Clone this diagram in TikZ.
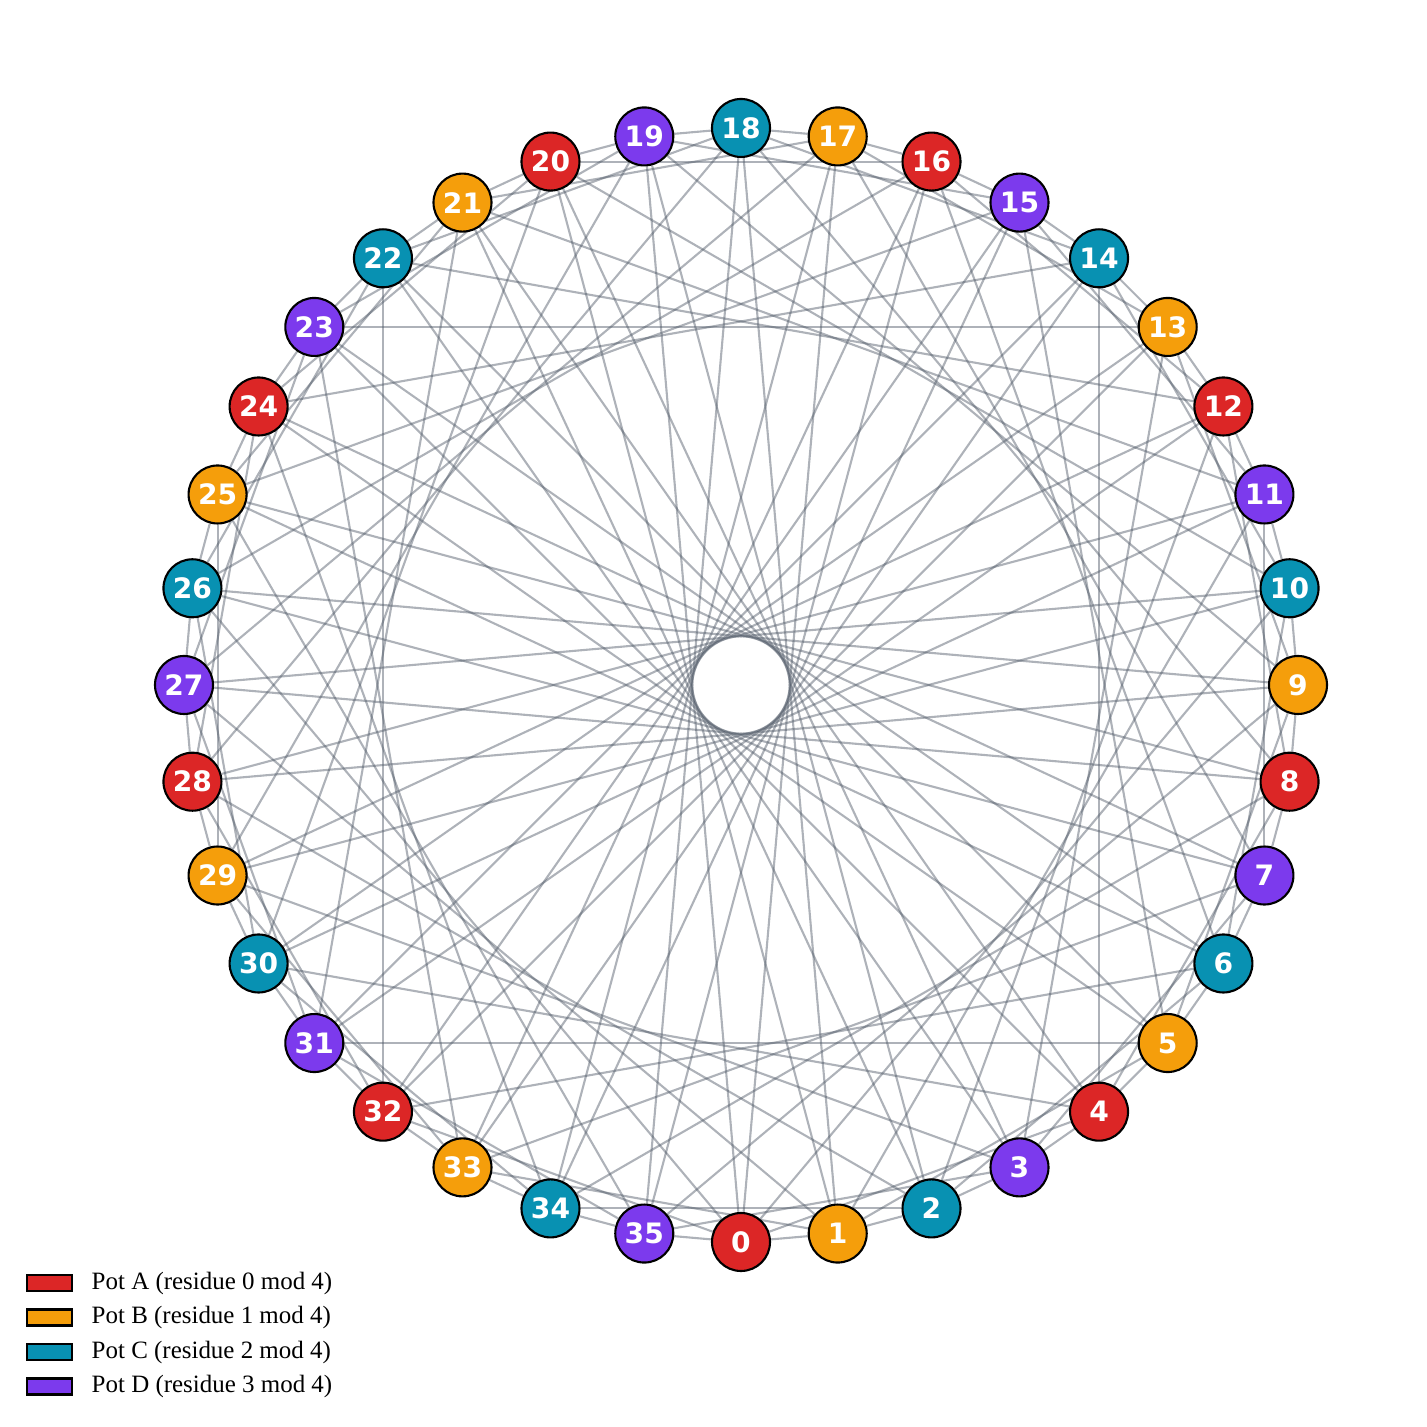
\documentclass[tikz,border=0pt]{standalone}
\usepackage{fontspec}
\newfontfamily\potfont{DejaVu Sans}
\newfontfamily\keyfont{Liberation Serif}
\usetikzlibrary{positioning,backgrounds}
\definecolor{pot0}{HTML}{DC2626}
\definecolor{pot1}{HTML}{F59E0B}
\definecolor{pot2}{HTML}{0891B2}
\definecolor{pot3}{HTML}{7C3AED}
\definecolor{edgegray}{HTML}{4B5563}
\tikzset{
	pot/.style={circle, draw=black, line width=0.6pt, minimum size=0.58cm,
		inner sep=0pt, text=white, font=\potfont\bfseries\fontsize{8}{9}\selectfont},
	link/.style={draw=edgegray, draw opacity=0.45, line width=0.6pt},
	keybox/.style={draw=black, line width=0.6pt, minimum width=0.45cm,
		minimum height=0.16cm, inner sep=0pt},
	keytext/.style={inner sep=0pt, font=\keyfont\fontsize{7.1}{8}\selectfont}
}
\begin{document}
\begin{tikzpicture}
		\useasboundingbox (-7.41,-7.42) rectangle (6.86,6.85);
		\def\rad{5.57}
		\foreach \i in {0,...,35} {
			\pgfmathtruncatemacro\r{mod(\i,4)}
			\node[pot, fill=pot\r] (n\i) at ({-90+10*\i}:\rad) {\i};
		}
		\begin{scope}[on background layer]
		\foreach \i in {0,...,35}
			\foreach \s in {1,4,10,17} {
				\pgfmathtruncatemacro\j{mod(\i+\s,36)}
				\draw[link] (n\i) -- (n\j);
			}
		\end{scope}
		\foreach \r/\p in {0/A,1/B,2/C,3/D} {
			\node[keybox, fill=pot\r] (key\p) at (-6.915,{-5.98-0.345*\r}) {};
			\node[keytext, right=0.18cm of key\p] (txt\p) {Pot \p\ (residue \r\ mod 4)};
		}
	\end{tikzpicture}
\end{document}
